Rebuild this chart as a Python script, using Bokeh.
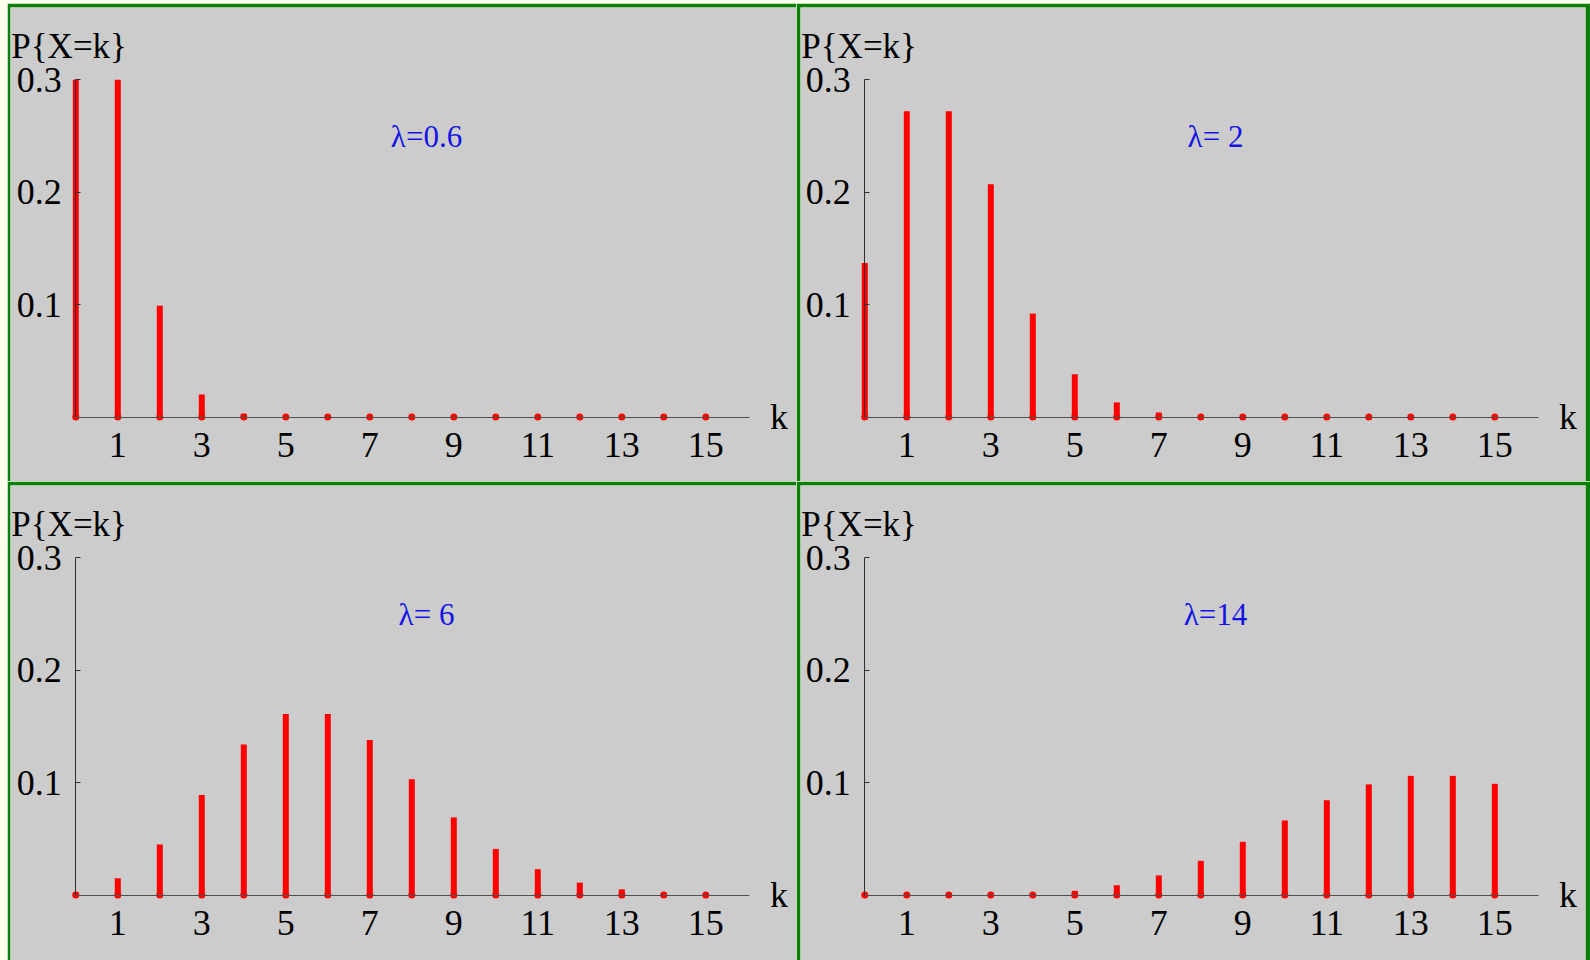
from bokeh.plotting import figure
from bokeh.models import FixedTicker, LinearAxis, Range1d, Spacer
from bokeh.layouts import row, column
from bokeh.embed import file_html
from bokeh.resources import INLINE
from bokeh.core.properties import value

# ---- data -----------------------------------------------------------------
K = list(range(16))

P_LAMBDA_06 = [0.549, 0.329, 0.099, 0.020, 0.003, 0.0004, 0.00004, 0.0, 0.0,
               0.0, 0.0, 0.0, 0.0, 0.0, 0.0, 0.0]
P_LAMBDA_2 = [0.137, 0.272, 0.272, 0.207, 0.092, 0.038, 0.013, 0.004, 0.001,
              0.0002, 0.0, 0.0, 0.0, 0.0, 0.0, 0.0]
P_LAMBDA_6 = [0.0025, 0.015, 0.045, 0.089, 0.134, 0.161, 0.161, 0.138, 0.103,
              0.069, 0.041, 0.023, 0.011, 0.005, 0.002, 0.001]
P_LAMBDA_14 = [0.0, 0.0, 0.0001, 0.0004, 0.0013, 0.0037, 0.0087, 0.0174,
               0.0304, 0.0473, 0.0663, 0.0843, 0.0984, 0.106, 0.106, 0.0989]

LAMBDA_LABELS = ["\u03bb=0.6", "\u03bb= 2", "\u03bb= 6", "\u03bb=14"]

X_TICKS = [1, 3, 5, 7, 9, 11, 13, 15]
Y_TICKS = [0.1, 0.2, 0.3]
Y_PLOT_MAX = 0.3          # plot range top; taller bars are cut here
X_AXIS_END = 16.05
Y_LABEL = "P{X=k}"
X_LABEL = "k"

# ---- style ----------------------------------------------------------------
GREEN = "#0a800a"
GRAY = "#cccccc"
RED = "#ff0000"
BLUE = "#1414e6"
PAGE = "#fffff0"
SERIF = "Liberation Serif"

PX_PER_K = 42.0
PX_PER_UNIT = 1124.0
BASELINE_FROM_TOP = 409.5


def panel(probs, lam_text, width, height, borders, k0_px):
    left, top, right, bottom = borders
    frame_w = width - left - right
    frame_h = height - top - bottom
    x0 = -k0_px / PX_PER_K
    x1 = x0 + frame_w / PX_PER_K
    y1 = BASELINE_FROM_TOP / PX_PER_UNIT
    y0 = y1 - frame_h / PX_PER_UNIT

    p = figure(width=width, height=height,
               x_range=Range1d(x0, x1), y_range=Range1d(y0, y1),
               output_backend="svg", toolbar_location=None,
               x_axis_location=None, y_axis_location=None,
               min_border_left=left, min_border_top=top,
               min_border_right=right, min_border_bottom=bottom,
               border_fill_color=GREEN, background_fill_color=GRAY,
               outline_line_color=None)
    p.grid.visible = False

    xaxis = LinearAxis(fixed_location=0, bounds=(0, X_AXIS_END),
                       ticker=FixedTicker(ticks=X_TICKS))
    xaxis.axis_line_color = "#505050"
    xaxis.axis_line_width = 1
    xaxis.major_tick_in = 0
    xaxis.major_tick_out = 0
    xaxis.minor_tick_in = 0
    xaxis.minor_tick_out = 0
    xaxis.major_label_standoff = 16
    xaxis.major_label_text_font = SERIF
    xaxis.major_label_text_font_size = "36px"
    xaxis.major_label_text_color = "black"
    p.add_layout(xaxis, "below")

    yaxis = LinearAxis(fixed_location=0, bounds=(0, Y_PLOT_MAX),
                       ticker=FixedTicker(ticks=Y_TICKS))
    yaxis.axis_line_color = "#303030"
    yaxis.axis_line_width = 1
    yaxis.major_tick_in = 5
    yaxis.major_tick_out = 0
    yaxis.major_tick_line_color = "#303030"
    yaxis.minor_tick_in = 0
    yaxis.minor_tick_out = 0
    yaxis.major_label_standoff = 14
    yaxis.major_label_text_font = SERIF
    yaxis.major_label_text_font_size = "36px"
    yaxis.major_label_text_color = "black"
    p.add_layout(yaxis, "left")

    tops = [min(v, Y_PLOT_MAX) for v in probs]
    p.segment(x0=K, y0=[0] * len(K), x1=K, y1=tops,
              line_color=RED, line_width=6, line_cap="butt")
    p.scatter(x=K, y=[0] * len(K), size=7, color=RED, line_color=None)

    p.text(x=[x0 + 0.02], y=[0.3295], text=[Y_LABEL],
           text_font=value(SERIF), text_font_size="35px",
           text_color="black", text_baseline="alphabetic", text_align="left")
    p.text(x=[16.74], y=[0.0], text=[X_LABEL],
           text_font=value(SERIF), text_font_size="36px",
           text_color="black", text_baseline="alphabetic", text_align="center")
    p.text(x=[8.35], y=[0.2495], text=[lam_text],
           text_font=value(SERIF), text_font_size="31px",
           text_color=BLUE, text_baseline="middle", text_align="center")
    return p


tl = panel(P_LAMBDA_06, LAMBDA_LABELS[0], 789, 478, (3, 4, 0, 0), 65.3)
tr = panel(P_LAMBDA_2, LAMBDA_LABELS[1], 794, 478, (4, 4, 5, 0), 64.3)
bl = panel(P_LAMBDA_6, LAMBDA_LABELS[2], 789, 479, (3, 4, 0, 0), 65.3)
br = panel(P_LAMBDA_14, LAMBDA_LABELS[3], 794, 479, (4, 4, 5, 0), 64.3)

grid = column(row(tl, tr), row(bl, br))
page = column(Spacer(height=3, width=1590),
              row(Spacer(width=7, height=957), grid),
              styles={"background-color": PAGE})

open("out.html", "w").write(file_html(page, INLINE))
